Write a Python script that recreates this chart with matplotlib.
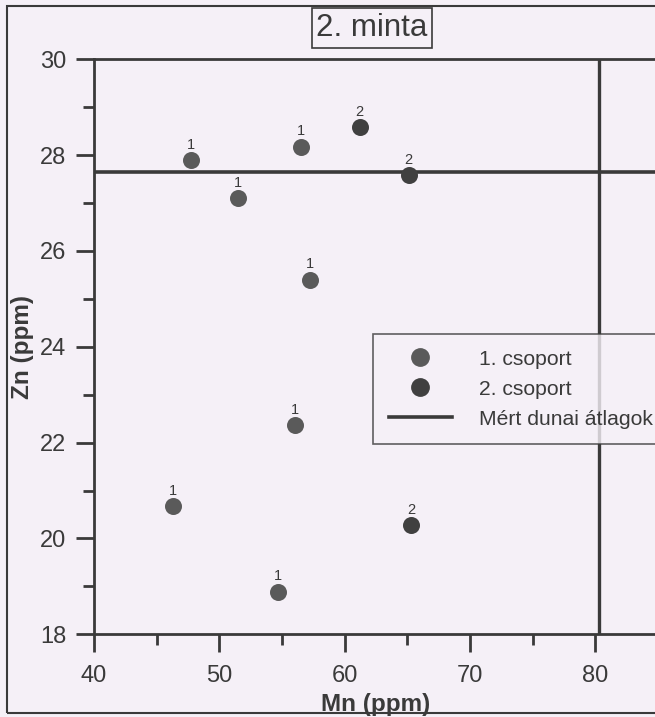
import matplotlib
matplotlib.use("Agg")
import matplotlib.pyplot as plt
from matplotlib.lines import Line2D
from matplotlib.patches import Rectangle

# ---- data ----
mn_group1 = [47.7, 51.5, 56.5, 57.2, 56.0, 46.3, 54.7]
zn_group1 = [27.90, 27.10, 28.18, 25.40, 22.37, 20.68, 18.89]
mn_group2 = [61.2, 65.1, 65.3]
zn_group2 = [28.58, 27.59, 20.28]
mean_mn = 80.3
mean_zn = 27.64
legend_labels = ["1. csoport", "2. csoport", "Mért dunai átlagok"]
x_ticks = [40, 50, 60, 70, 80]
y_ticks = [18, 20, 22, 24, 26, 28, 30]
title_text = "2. minta"
x_label = "Mn (ppm)"
y_label = "Zn (ppm)"

plt.rcParams["font.family"] = ["Liberation Sans", "DejaVu Sans"]

bg = "#f5f0f7"
ink = "#3a3a3a"
c1 = "#5a5a5a"
c2 = "#404040"

W, H = 655, 717
fig = plt.figure(figsize=(W / 100, H / 100), dpi=100, facecolor=bg)
ax = fig.add_axes([94 / W, 1 - 634.3 / H, (658 - 94) / W, (634.3 - 59.3) / H])
ax.set_facecolor(bg)

ax.set_xlim(40, 40 + (658 - 94) / 12.61)
ax.set_ylim(18, 30)

ax.axhline(mean_zn, color=ink, lw=2.6, zorder=2)
ax.axvline(mean_mn, color=ink, lw=2.4, zorder=2)

ax.scatter(mn_group1, zn_group1, s=150, color=c1, zorder=3, linewidths=0)
ax.scatter(mn_group2, zn_group2, s=150, color=c2, zorder=3, linewidths=0)

lab_fs = 10.5
for x, y in zip(mn_group1, zn_group1):
    ax.annotate("1", (x, y), xytext=(0, 11), textcoords="offset points",
                ha="center", va="center", fontsize=lab_fs, color=ink)
for x, y in zip(mn_group2, zn_group2):
    ax.annotate("2", (x, y), xytext=(0, 11), textcoords="offset points",
                ha="center", va="center", fontsize=lab_fs, color=ink)

ax.set_xticks(x_ticks)
ax.set_yticks(y_ticks)
ax.set_xticks([45, 55, 65, 75, 85], minor=True)
ax.set_yticks([19, 21, 23, 25, 27, 29], minor=True)
ax.tick_params(which="major", direction="out", length=13, width=2, color=ink,
               labelsize=17, labelcolor=ink)
ax.tick_params(axis="x", which="major", pad=9)
ax.tick_params(axis="y", which="major", pad=7)
ax.tick_params(which="minor", direction="out", length=8, width=2, color=ink)
for sp in ax.spines.values():
    sp.set_linewidth(2)
    sp.set_color(ink)

ax_fs = 17.5
fig.text(376 / W, 1 - 705 / H, x_label, ha="center", va="center",
         fontsize=ax_fs, fontweight="bold", color=ink)
fig.text(22 / W, 1 - 347 / H, y_label, ha="center", va="center", rotation=90,
         fontsize=ax_fs, fontweight="bold", color=ink)

fig.text(372 / W, 1 - 28 / H, title_text, ha="center", va="center",
         fontsize=22.5, color=ink,
         bbox=dict(boxstyle="square,pad=0.15", fc=bg, ec=ink, lw=1.2))

fig.patches.append(Rectangle((7 / W, 1 - 713 / H), 2, (713 - 6) / H,
                             transform=fig.transFigure, fill=False,
                             ec=ink, lw=1.5))

handles = [Line2D([], [], ls="none", marker="o", ms=12.5, color=c1),
           Line2D([], [], ls="none", marker="o", ms=12.5, color=c2),
           Line2D([], [], color=ink, lw=2.6)]
leg_fs = 15.2
px = leg_fs * 100 / 72
leg = ax.legend(handles, legend_labels, loc="upper left",
                bbox_to_anchor=(373 / W, 1 - 334 / H),
                bbox_transform=fig.transFigure, borderaxespad=0,
                fontsize=leg_fs, frameon=True, fancybox=False,
                handlelength=63 / px, handletextpad=27 / px,
                labelspacing=0.52, borderpad=0.74)
leg.get_frame().set_edgecolor(ink)
leg.get_frame().set_linewidth(1.2)
leg.get_frame().set_facecolor(bg)
for t in leg.get_texts():
    t.set_color(ink)

fig.savefig("out.png", dpi=100, facecolor=bg)
